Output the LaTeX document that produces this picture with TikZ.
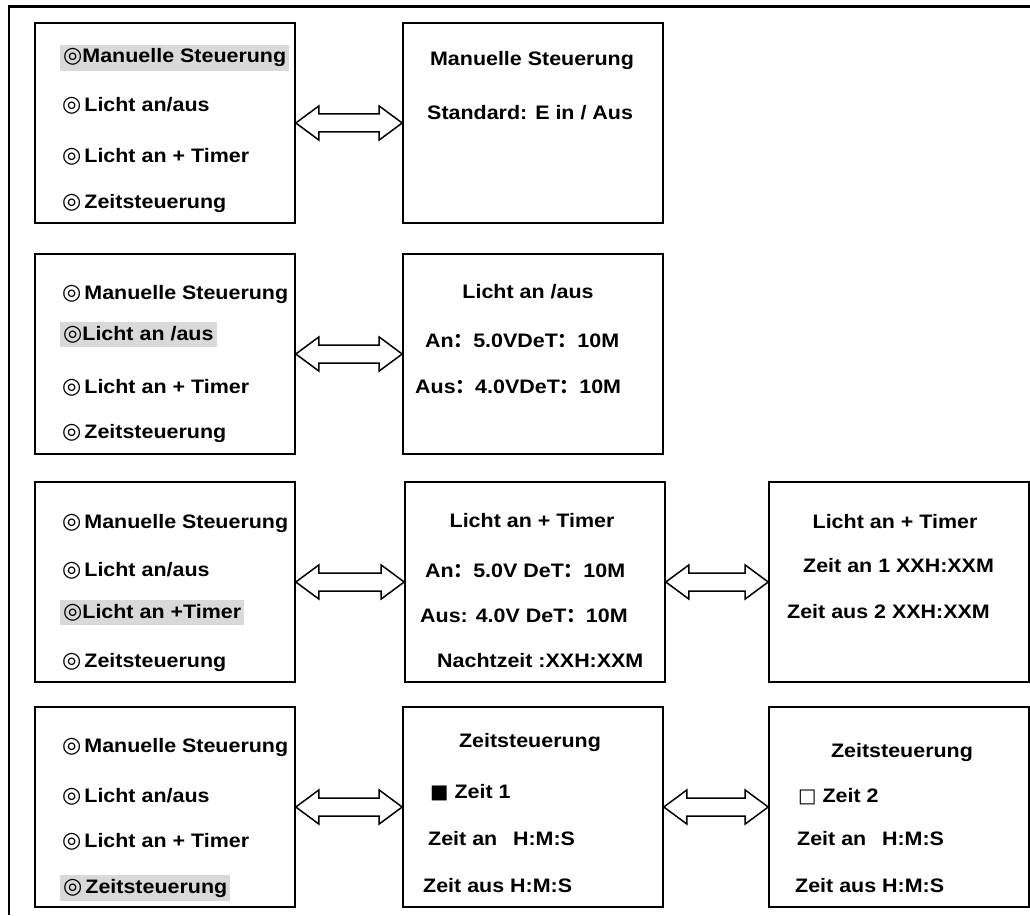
\documentclass[tikz,border=0pt]{standalone}
\usepackage{fontspec}
\setmainfont{Liberation Sans}[FakeStretch=1.1]
\newfontfamily\symf{DejaVu Sans}
\newfontfamily\cjk{Noto Sans CJK SC}
\usetikzlibrary{calc}
\newcommand\ring{{\symf\fontsize{22}{22}\selectfont ◎}}
\newcommand\fw{{\cjk ：}}

\begin{document}
\begin{tikzpicture}[x=1pt,y=-1pt,
  every node/.style={font=\fontsize{19.5}{22}\selectfont\bfseries},
  screen/.style={draw,line width=1.6pt,minimum width=260pt,minimum height=200pt,inner sep=0pt},
  item/.style={anchor=base west,inner xsep=2pt,inner ysep=4pt},
  sel/.style={item,fill=black!15,inner xsep=3pt},
  row/.style={anchor=base west,inner sep=0pt},
  title/.style={anchor=base,inner sep=0pt},
  hollow/.style={draw,line width=1.5pt,fill=white,line join=miter}]
\useasboundingbox (0,0) rectangle (1030,915);
% outer frame, only top and left edge show
\draw[line width=3pt] (8,7) -- (1030,7);
\draw[line width=2pt] (9,7) -- (9,915);
% Row 1: Manuelle Steuerung
\node[screen] (menu1) at (165,123) {};
\node[screen] (manu) at (533,123) {};
\node[sel] (m1a) at (60,63) {\ring Manuelle Steuerung};
\node[item] (m1b) at (60,112) {\ring\hspace{3pt}Licht an/aus};
\node[item] (m1c) at (60,162) {\ring\hspace{3pt}Licht an + Timer};
\node[item] (m1d) at (60,208) {\ring\hspace{3pt}Zeitsteuerung};
\node[title] (manut) at (532,66) {Manuelle Steuerung};
\node[row] (manus) at (427,120) {Standard: E in / Aus};
\draw[hollow] (menu1.east) -- ++(23,-17) -- ++(0,8) -- ($(manu.west)+(-23,-9)$) -- ++(0,-8) -- (manu.west) -- ++(-23,17) -- ++(0,-8) -- ($(menu1.east)+(23,9)$) -- ++(0,8) -- cycle;
% Row 2: Licht an /aus
\node[screen] (menu2) at (165,354) {};
\node[screen] (anaus) at (533,354) {};
\node[item] (m2a) at (60,299) {\ring\hspace{3pt}Manuelle Steuerung};
\node[sel] (m2b) at (60,340) {\ring Licht an /aus};
\node[item] (m2c) at (60,393) {\ring\hspace{3pt}Licht an + Timer};
\node[item] (m2d) at (60,438) {\ring\hspace{3pt}Zeitsteuerung};
\node[title] (anaust) at (528,298) {Licht an /aus};
\node[row] (anaus1) at (425,347) {An\fw 5.0VDeT\fw 10M};
\node[row] (anaus2) at (415,393) {Aus\fw 4.0VDeT\fw 10M};
\draw[hollow] (menu2.east) -- ++(23,-17) -- ++(0,8) -- ($(anaus.west)+(-23,-9)$) -- ++(0,-8) -- (anaus.west) -- ++(-23,17) -- ++(0,-8) -- ($(menu2.east)+(23,9)$) -- ++(0,8) -- cycle;
% Row 3: Licht an + Timer
\node[screen] (menu3) at (165,582) {};
\node[screen] (timer) at (535,582) {};
\node[screen] (nacht) at (899,582) {};
\node[item] (m3a) at (60,528) {\ring\hspace{3pt}Manuelle Steuerung};
\node[item] (m3b) at (60,576) {\ring\hspace{3pt}Licht an/aus};
\node[sel] (m3c) at (60,618) {\ring Licht an +Timer};
\node[item] (m3d) at (60,667) {\ring\hspace{3pt}Zeitsteuerung};
\node[title] (timert) at (532,527) {Licht an + Timer};
\node[row] (timer1) at (425,577) {An\fw 5.0V DeT\fw 10M};
\node[row] (timer2) at (420,622) {Aus: 4.0V DeT\fw 10M};
\node[row] (timer3) at (437,667) {Nachtzeit :XXH:XXM};
\node[title] (nachtt) at (895,528) {Licht an + Timer};
\node[row] (nacht1) at (803,572) {Zeit an 1 XXH:XXM};
\node[row] (nacht2) at (787,618) {Zeit aus 2 XXH:XXM};
\draw[hollow] (menu3.east) -- ++(23,-17) -- ++(0,8) -- ($(timer.west)+(-23,-9)$) -- ++(0,-8) -- (timer.west) -- ++(-23,17) -- ++(0,-8) -- ($(menu3.east)+(23,9)$) -- ++(0,8) -- cycle;
\draw[hollow] (timer.east) -- ++(23,-17) -- ++(0,8) -- ($(nacht.west)+(-23,-9)$) -- ++(0,-8) -- (nacht.west) -- ++(-23,17) -- ++(0,-8) -- ($(timer.east)+(23,9)$) -- ++(0,8) -- cycle;
% Row 4: Zeitsteuerung
\node[screen] (menu4) at (165,807) {};
\node[screen] (zeit1) at (533,807) {};
\node[screen] (zeit2) at (899,807) {};
\node[item] (m4a) at (60,752) {\ring\hspace{3pt}Manuelle Steuerung};
\node[item] (m4b) at (60,802) {\ring\hspace{3pt}Licht an/aus};
\node[item] (m4c) at (60,847) {\ring\hspace{3pt}Licht an + Timer};
\node[sel] (m4d) at (60,893) {\ring\hspace{3pt}Zeitsteuerung};
\node[title] (zeit1t) at (530,747) {Zeitsteuerung};
\node[row] (zeit1a) at (430,798) {{\symf ■} Zeit 1};
\node[row] (zeit1b) at (428,845) {Zeit an\enspace\ H:M:S};
\node[row] (zeit1c) at (423,892) {Zeit aus H:M:S};
\node[title] (zeit2t) at (902,757) {Zeitsteuerung};
\node[row] (zeit2a) at (798,802) {{\symf □} Zeit 2};
\node[row] (zeit2b) at (797,845) {Zeit an\enspace\ H:M:S};
\node[row] (zeit2c) at (795,892) {Zeit aus H:M:S};
\draw[hollow] (menu4.east) -- ++(23,-17) -- ++(0,8) -- ($(zeit1.west)+(-23,-9)$) -- ++(0,-8) -- (zeit1.west) -- ++(-23,17) -- ++(0,-8) -- ($(menu4.east)+(23,9)$) -- ++(0,8) -- cycle;
\draw[hollow] (zeit1.east) -- ++(23,-17) -- ++(0,8) -- ($(zeit2.west)+(-23,-9)$) -- ++(0,-8) -- (zeit2.west) -- ++(-23,17) -- ++(0,-8) -- ($(zeit1.east)+(23,9)$) -- ++(0,8) -- cycle;
\end{tikzpicture}
\end{document}
